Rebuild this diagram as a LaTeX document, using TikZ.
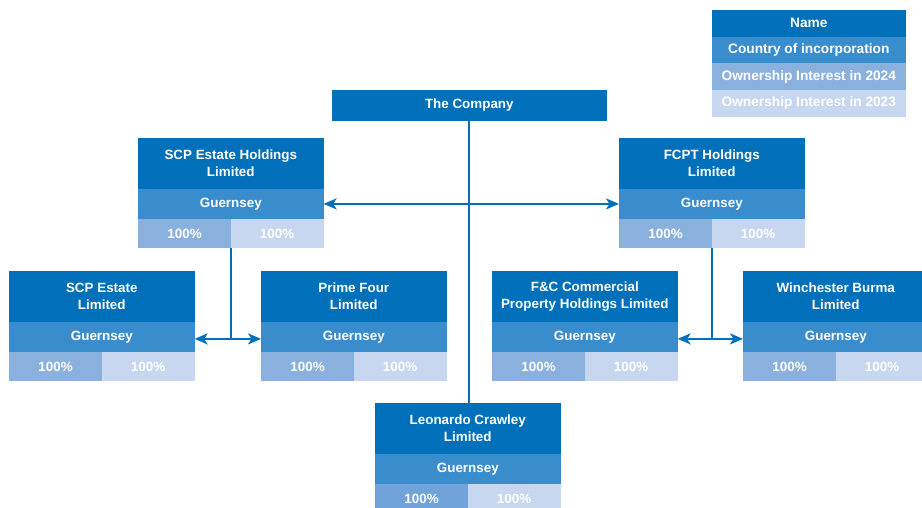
\documentclass[tikz,border=0pt]{standalone}
\usepackage{fontspec}
\setmainfont{Liberation Sans}
\usetikzlibrary{arrows.meta}
\definecolor{dk}{HTML}{0070BA}
\definecolor{md}{HTML}{3A8DCD}
\definecolor{pa}{HTML}{8AB1DE}
\definecolor{pl}{HTML}{6FA3D9}
\definecolor{pb}{HTML}{C6D7EF}
\tikzset{
  cell/.style={inner sep=0pt, text=white, line width=0.6pt, font=\fontsize{13.4}{17}\selectfont\bfseries, align=center},
  ttl/.style={cell, fill=dk, draw=dk, minimum width=185pt, minimum height=50pt},
  ctry/.style={cell, fill=md, draw=md, minimum width=185pt, minimum height=30pt},
  pct/.style={cell, minimum width=92.5pt, minimum height=28pt},
  lg/.style={cell, font=\fontsize{13.7}{16}\selectfont\bfseries, minimum width=193pt, minimum height=26pt},
  conn/.style={draw=dk, line width=2pt},
  dbl/.style={conn, Stealth-Stealth, arrows={[length=13pt,width=11pt,inset=3.5pt]}}
}
\newcommand{\entity}[5]{%
  \node[ttl, anchor=north west] (#1) at (#2,#3) {#4};
  \node[ctry, anchor=north] (#1-c) at (#1.south) {Guernsey};
  \node[pct, fill=#5, draw=#5, anchor=north west] (#1-a) at (#1-c.south west) {100\%};
  \node[pct, fill=pb, draw=pb, anchor=north east] (#1-b) at (#1-c.south east) {100\%};
}
\begin{document}
\begin{tikzpicture}[x=1pt,y=-1pt]
\useasboundingbox (0,0) rectangle (922,507);
% legend
\node[lg, fill=dk, draw=dk, anchor=north west] (l1) at (712,10) {Name};
\node[lg, fill=md, draw=md, anchor=north] (l2) at (l1.south) {Country of incorporation};
\node[lg, fill=pa, draw=pa, anchor=north] (l3) at (l2.south) {Ownership Interest in 2024};
\node[lg, fill=pb, draw=pb, anchor=north] (l4) at (l3.south) {Ownership Interest in 2023};
% company
\node[cell, fill=dk, draw=dk, minimum width=274pt, minimum height=30pt, anchor=north west] (co) at (332,90) {The Company};
% entities
\entity{sh}{138}{138}{SCP Estate Holdings\\Limited}{pa}
\entity{fh}{619}{138}{FCPT Holdings\\Limited}{pa}
\entity{se}{9}{271}{SCP Estate\\Limited}{pa}
\entity{pf}{261}{271}{Prime Four\\Limited}{pa}
\entity{fc}{492}{271}{F\&C Commercial\\Property Holdings Limited}{pa}
\entity{wb}{743}{271}{Winchester Burma\\Limited}{pa}
\entity{lc}{375}{403}{Leonardo Crawley\\Limited}{pl}
% connectors
\draw[conn] (co.south) -- (co.south |- lc.north);
\draw[dbl] (sh-c.east) -- (fh-c.west);
\coordinate (j1) at ([yshift=-2pt]se-c.east -| sh-a.south east);
\coordinate (j2) at ([yshift=-2pt]fc-c.east -| fh-a.south east);
\draw[conn] (sh-a.south east) -- (j1);
\draw[conn] (fh-a.south east) -- (j2);
\draw[dbl] ([yshift=-2pt]se-c.east) -- ([yshift=-2pt]pf-c.west);
\draw[dbl] ([yshift=-2pt]fc-c.east) -- ([yshift=-2pt]wb-c.west);
\end{tikzpicture}
\end{document}
